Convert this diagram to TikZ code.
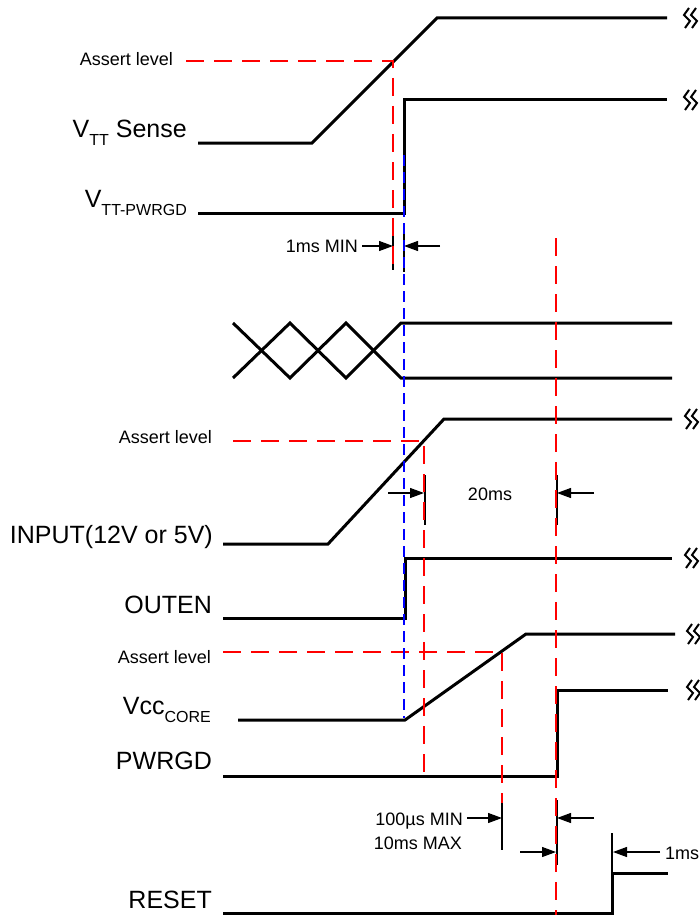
\documentclass[tikz,border=0pt]{standalone}
\usepackage{fontspec}
\setmainfont{Liberation Sans}
\usetikzlibrary{arrows.meta}
\newcommand{\subtxt}[1]{\raisebox{-8pt}{\fontsize{16}{18}\selectfont #1}}
\begin{document}
\begin{tikzpicture}[x=1pt,y=-1pt,
  sig/.style={line width=3pt},
  reddash/.style={draw=red, line width=2pt, dash pattern=on 18pt off 10pt},
  bluedash/.style={draw=blue, line width=2pt, dash pattern=on 11pt off 6pt},
  tick/.style={line width=1.2pt},
  dimarrow/.style={line width=1.2pt, -{Triangle[length=14pt,width=10pt]}},
  biglabel/.style={font=\fontsize{25}{28}\selectfont, anchor=base east, inner sep=0pt},
  smalllabel/.style={font=\fontsize{18}{21}\selectfont, inner sep=0pt},
  brk/.pic={
    \draw[line width=2pt, line join=miter] (5,-10)--(0,-3)--(6,3)--(1,10);
    \draw[line width=2pt, line join=miter] (12,-10)--(7,-3)--(13,3)--(8,10);
  }]
\useasboundingbox (0,0) rectangle (700,915);

% ---------- labels ----------
\node[biglabel] (lsense) at (187,138) {V\subtxt{TT} Sense};
\node[biglabel] (lpwrgdtt) at (187,207) {V\subtxt{TT-PWRGD}};
\node[biglabel] (linput) at (213,543) {INPUT(12V or 5V)};
\node[biglabel] (louten) at (212,613) {OUTEN};
\node[biglabel] (lcore) at (211,714) {Vcc\subtxt{CORE}};
\node[biglabel] (lpwrgd) at (212,769) {PWRGD};
\node[biglabel] (lreset) at (212,908) {RESET};
\node[smalllabel, anchor=base east] (al1) at (173,66) {Assert level};
\node[smalllabel, anchor=base east] (al2) at (212,443) {Assert level};
\node[smalllabel, anchor=base east] (al3) at (211,663) {Assert level};
\node[smalllabel, anchor=base east] (t1ms) at (358,252) {1ms MIN};
\node[smalllabel, anchor=base] (t20) at (490,500) {20ms};
\node[smalllabel, anchor=base east] (t100) at (463,825) {100\textmu s MIN};
\node[smalllabel, anchor=base east] (t10) at (462,849) {10ms MAX};
\node[smalllabel, anchor=base west] (t1r) at (665,859) {1ms};

% ---------- dimension ticks ----------
\draw[tick] (393,225) -- (393,270);
\draw[tick] (404,225) -- (404,272);
\draw[tick] (425,475) -- (425,525);
\draw[tick] (557,475) -- (557,525);
\draw[tick] (502,800) -- (502,850);
\draw[tick] (557,800) -- (557,865);
\draw[tick] (612,833) -- (612,873);

% ---------- dimension arrows ----------
\draw[dimarrow] (362,246) -- (393,246);
\draw[dimarrow] (440,246) -- (404,246);
\draw[dimarrow] (388,493) -- (424,493);
\draw[dimarrow] (594,493) -- (557,493);
\draw[dimarrow] (467,818) -- (502,818);
\draw[dimarrow] (594,818) -- (557,818);
\draw[dimarrow] (520,852) -- (556,852);
\draw[dimarrow] (660,852) -- (613,852);

% ---------- signals ----------
\draw[sig] (198,143) -- (312,143) -- (437,18) -- (667,18);
\draw[sig] (198,213) -- (404,213) -- (404,100) -- (667,100);
\draw[sig] (233,323) -- (290,378) -- (346,323) -- (401,378) -- (672,378);
\draw[sig] (233,378) -- (290,323) -- (346,378) -- (401,323) -- (672,323);
\draw[sig] (223,544) -- (328,544) -- (444,419) -- (672,419);
\draw[sig] (223,618) -- (405,618) -- (405,558) -- (672,558);
\draw[sig] (238,720) -- (405,720) -- (526,634) -- (675,634);
\draw[sig] (223,776) -- (557,776) -- (557,690) -- (668,690);
\draw[sig] (223,913) -- (612,913) -- (612,873) -- (668,873);

% ---------- break marks ----------
\pic at (684,18) {brk};
\pic at (684,100) {brk};
\pic at (685,419) {brk};
\pic at (685,558) {brk};
\pic at (687,634) {brk};
\pic at (687,690) {brk};

% ---------- assert / timing reference lines ----------
\draw[reddash] (186,61) -- (393,61) -- (393,272);
\draw[reddash] (233,441) -- (424,441) -- (424,777);
\draw[reddash] (223,652) -- (502,652) -- (502,803);
\draw[reddash] (556,238) -- (556,915);
\draw[bluedash] (404,155) -- (404,718);
\end{tikzpicture}
\end{document}
